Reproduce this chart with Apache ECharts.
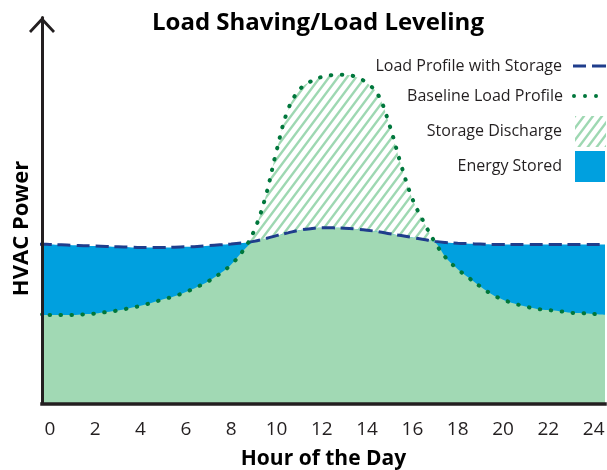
<!DOCTYPE html>
<html><head><meta charset="utf-8">
<script src="https://cdn.jsdelivr.net/npm/echarts@6/dist/echarts.min.js"></script>
<style>html,body{margin:0;padding:0;background:#fff}#c{width:607px;height:470px}</style>
</head><body><div id="c"></div>
<script>
// Hour of day (half-hour samples; the outer points only carry the fill to the plot edges)
const hours = [-0.5,0,0.5,1,1.5,2,2.5,3,3.5,4,4.5,5,5.5,6,6.5,7,7.5,8,8.5,9,9.5,10,10.5,11,11.5,12,12.5,13,13.5,14,14.5,15,15.5,16,16.5,17,17.5,18,18.5,19,19.5,20,20.5,21,21.5,22,22.5,23,23.5,24,24.5];
// Baseline Load Profile (relative HVAC power)
const baseline = [23.1,22.9,22.9,22.9,23.1,23.3,23.7,24.1,24.7,25.3,26.1,27.0,27.8,28.9,30.2,31.7,33.6,36.0,39.4,44.6,53.2,65.4,76.0,81.2,83.4,84.6,85.1,85.2,84.6,83.0,79.8,71.9,61.8,53.0,47.0,41.7,37.6,34.8,32.5,30.3,28.3,26.9,25.9,25.1,24.5,24.2,23.9,23.5,23.4,23.2,23.0];
// Load Profile with Storage
const withStorage = [41.3,41.2,41.1,41.0,40.9,40.8,40.7,40.6,40.5,40.4,40.4,40.4,40.5,40.6,40.7,40.9,41.1,41.3,41.6,42.0,42.7,43.5,44.2,44.9,45.3,45.5,45.5,45.4,45.2,44.9,44.5,44.0,43.5,43.0,42.5,42.0,41.7,41.5,41.4,41.3,41.2,41.2,41.2,41.2,41.2,41.2,41.2,41.2,41.2,41.2,41.2];
// Tick labels
const tickHours = [0,2,4,6,8,10,12,14,16,18,20,22,24];

const FONT = 'Open Sans';
const INK = '#231f20';
const GREEN = '#a1d9b4';
const BLUE = '#00a0df';
const DASH = '#1f3d8c';
const DOT = '#00773c';

function hatchCanvas() {
  const c = document.createElement('canvas');
  c.width = 9; c.height = 12;
  const g = c.getContext('2d');
  g.strokeStyle = '#9ed8b2';
  g.lineWidth = 2.4;
  for (const dx of [-9, 0, 9]) {
    g.beginPath();
    g.moveTo(dx - 1.5, 14);
    g.lineTo(dx + 10.5, -2);
    g.stroke();
  }
  return c;
}
const hatch = { image: hatchCanvas(), repeat: 'repeat' };

const pts = a => hours.map((h, i) => [h, a[i]]);
const lower = baseline.map((b, i) => Math.min(b, withStorage[i]));

const chart = echarts.init(document.getElementById('c'), null, { renderer: 'canvas' });
const legendText = pad => ({ fontFamily: FONT, fontSize: 16, color: INK, padding: [0, pad, 0, 0] });
const legendBase = { orient: 'vertical', align: 'right', padding: 0, selectedMode: false };
chart.setOption({
  animation: false,
  title: {
    text: 'Load Shaving/Load Leveling',
    left: 147, top: 6, padding: 5,
    textStyle: { fontFamily: FONT, fontWeight: 'bold', fontSize: 24, color: '#000' }
  },
  grid: { left: 42, right: 2, top: 17.5, bottom: 66.5, outerBoundsMode: 'none', containLabel: false },
  xAxis: {
    type: 'value', min: -0.35, max: 24.5, z: 10,
    name: 'Hour of the Day', nameLocation: 'middle', nameGap: 45,
    nameTextStyle: { fontFamily: FONT, fontWeight: 'bold', fontSize: 21, color: '#000' },
    axisLine: { onZero: false, lineStyle: { color: INK, width: 3.5, cap: 'square' } },
    axisTick: { show: false },
    splitLine: { show: false },
    axisLabel: { customValues: tickHours, fontFamily: FONT, fontSize: 19, color: INK, margin: 17 }
  },
  yAxis: {
    type: 'value', min: 0, max: 100, z: 10,
    name: 'HVAC Power', nameLocation: 'middle', nameRotate: 90, nameGap: 9,
    nameTextStyle: { fontFamily: FONT, fontWeight: 'bold', fontSize: 22, color: '#000', padding: [0, 36, 0, 0] },
    axisLine: {
      onZero: false,
      lineStyle: { color: INK, width: 3 },
      symbol: ['none', 'path://M13,0L26,14L24,16L13,4.2L2,16L0,14Z'],
      symbolSize: [26, 16], symbolOffset: [0, -7.5]
    },
    axisTick: { show: false }, axisLabel: { show: false }, splitLine: { show: false }
  },
  legend: [
    Object.assign({ data: [{ name: 'Load Profile with Storage', icon: 'path://M0,0H13V3H0Z M19,0H33V3H19Z' }],
      right: 1, top: 58, itemWidth: 33, itemHeight: 3, textStyle: legendText(6) }, legendBase),
    Object.assign({ data: [{ name: 'Baseline Load Profile', icon: 'path://M0,2a2,2 0 1,0 4,0a2,2 0 1,0 -4,0Z M11,2a2,2 0 1,0 4,0a2,2 0 1,0 -4,0Z M22,2a2,2 0 1,0 4,0a2,2 0 1,0 -4,0Z' }],
      right: 9, top: 88, itemWidth: 26, itemHeight: 4, textStyle: legendText(4) }, legendBase),
    Object.assign({ data: [{ name: 'Storage Discharge', icon: 'rect', itemStyle: { color: hatch } }],
      right: 1, top: 116, itemWidth: 31, itemHeight: 31, textStyle: legendText(8) }, legendBase),
    Object.assign({ data: [{ name: 'Energy Stored', icon: 'rect' }],
      right: 2, top: 151, itemWidth: 30, itemHeight: 31, textStyle: legendText(8) }, legendBase)
  ],
  series: [
    { name: 'Storage Discharge', type: 'line', data: pts(baseline), smooth: 0.4, symbol: 'none', z: 1, silent: true,
      lineStyle: { width: 0 }, itemStyle: { color: hatch }, areaStyle: { color: hatch, opacity: 1 } },
    { name: 'Energy Stored', type: 'line', data: pts(withStorage), smooth: 0.4, symbol: 'none', z: 2, silent: true,
      lineStyle: { width: 0 }, itemStyle: { color: BLUE }, areaStyle: { color: BLUE, opacity: 1 } },
    { name: 'Lower Load', type: 'line', data: pts(lower), smooth: 0.4, symbol: 'none', z: 3, silent: true,
      lineStyle: { width: 0 }, itemStyle: { color: GREEN }, areaStyle: { color: GREEN, opacity: 1 } },
    { name: 'Load Profile with Storage', type: 'line', data: pts(withStorage), smooth: 0.4, symbol: 'none', z: 4, silent: true,
      itemStyle: { color: DASH }, lineStyle: { color: DASH, width: 3, type: [13, 6] } },
    { name: 'Baseline Load Profile', type: 'line', data: pts(baseline), smooth: 0.4, symbol: 'none', z: 5, silent: true,
      itemStyle: { color: DOT }, lineStyle: { color: DOT, width: 4, type: [0.5, 10.5], cap: 'round' } }
  ]
});
</script>
</body></html>
